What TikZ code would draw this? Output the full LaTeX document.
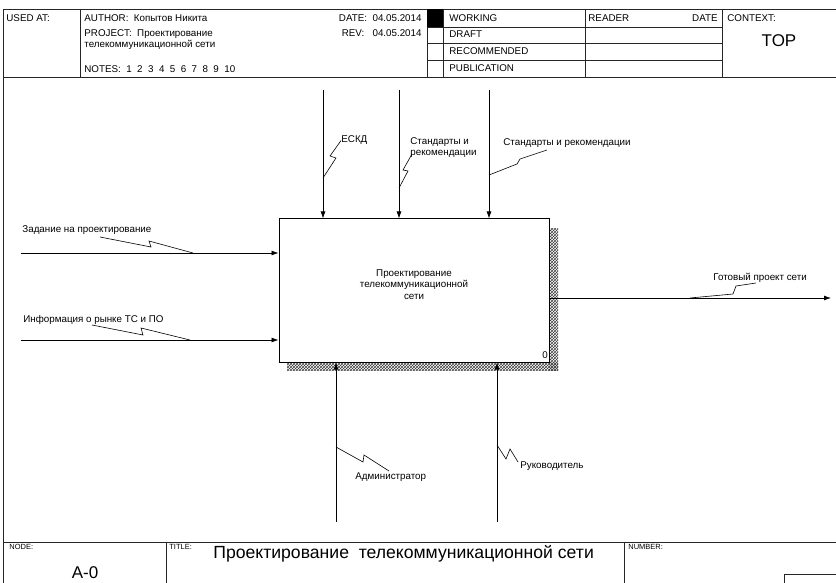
\documentclass[tikz,border=0pt]{standalone}
\usepackage{fontspec}
\setmainfont{Liberation Sans}
\usetikzlibrary{arrows.meta,patterns,positioning}

\begin{document}
\begin{tikzpicture}[x=1pt,y=-1pt,line width=0.8pt,
  font=\fontsize{9.8}{11.5}\selectfont,
  frame/.style={line width=0.9pt, draw=black!85},
  txt/.style={inner sep=0pt, anchor=base west},
  txtr/.style={inner sep=0pt, anchor=base east},
  tiny/.style={inner sep=0pt, anchor=base west, font=\fontsize{7.5}{9}\selectfont},
  big/.style={inner sep=0pt, font=\fontsize{17}{20}\selectfont},
  flow/.style={-{Latex[length=7pt,width=5pt]}, line width=0.8pt},
  squig/.style={line width=0.6pt},
  act/.style={draw, line width=1pt, minimum width=270pt, minimum height=143pt,
              fill=white, inner sep=0pt}]
\useasboundingbox (0,0) rectangle (836,583);
\draw[frame] (3,590) -- (3,9) -- (840,9);
\draw[frame] (3,77) -- (840,77);
\draw[frame] (80,9) -- (80,77);
\draw[frame] (427,9) -- (427,77);
\draw[frame] (443,9) -- (443,77);
\draw[frame] (585,9) -- (585,77);
\draw[frame] (722,9) -- (722,77);
\foreach \y in {27,43,60} \draw[frame] (427,\y) -- (722,\y);
\fill (427,9) rectangle (443,27);
\node[txt] (usedat) at (6,22) {USED AT:};
\node[txt] (author) at (84,22) {AUTHOR:\ \ Копытов Никита};
\node[txt] (project) at (84,36.5) {PROJECT:\ \ Проектирование};
\node[txt] (project2) at (84,48) {телекоммуникационной сети};
\node[txt] (notes) at (84,73) {NOTES:\ \ 1\ \ 2\ \ 3\ \ 4\ \ 5\ \ 6\ \ 7\ \ 8\ \ 9\ \ 10};
\node[txtr] (date) at (422,22) {DATE:\ \ 04.05.2014};
\node[txtr] (rev) at (422,36.5) {REV:\ \ \ 04.05.2014};
\node[txt] (working) at (449,22) {WORKING};
\node[txt] (draft) at (449,38) {DRAFT};
\node[txt] (recommended) at (449,55) {RECOMMENDED};
\node[txt] (publication) at (449,72) {PUBLICATION};
\node[txt] (reader) at (588,22) {READER};
\node[txtr] (rdate) at (718,22) {DATE};
\node[txt] (context) at (727,22) {CONTEXT:};
\node[big, anchor=base] (top) at (779,47) {TOP};
\fill[pattern=crosshatch, pattern color=black!75] (549,228) rectangle (558,370);
\fill[pattern=crosshatch, pattern color=black!75] (287,362) rectangle (558,370);
\node[act, label={[yshift=6pt, align=center, inner sep=0pt]center:Проектирование\\телекоммуникационной\\сети}] (a0) at (414,290.5) {};
\node[txt] (num) at (542,358) {0};
\coordinate (c1) at (323,90);
\coordinate (c2) at (399,90);
\coordinate (c3) at (489,90);
\coordinate (i1) at (21,253);
\coordinate (i2) at (21,340);
\coordinate (o1) at (831,298);
\coordinate (m1) at (336,522);
\coordinate (m2) at (497,522);
\draw[flow] (c1) -- (c1 |- a0.north);
\draw[flow] (c2) -- (c2 |- a0.north);
\draw[flow] (c3) -- (c3 |- a0.north);
\draw[flow] (i1) -- (i1 -| a0.west);
\draw[flow] (i2) -- (i2 -| a0.west);
\draw[flow] (a0.east |- o1) -- (o1);
\draw[flow] (m1) -- (m1 |- a0.south);
\draw[flow] (m2) -- (m2 |- a0.south);
\node[txt] (eskd) at (341,143) {ЕСКД};
\node[inner sep=0pt, anchor=north west, align=left, font=\fontsize{9.8}{11}\selectfont] (std1) at (410,137.5) {Стандарты и\\рекомендации};
\node[txt] (std2) at (503,146) {Стандарты и рекомендации};
\node[txt] (task) at (22,233) {Задание на проектирование};
\node[txt] (info) at (23,322) {Информация о рынке ТС и ПО};
\node[txt] (result) at (713,280) {Готовый проект сети};
\node[txt] (admin) at (355,479) {Администратор};
\node[txt] (boss) at (520,468) {Руководитель};
\coordinate (k1) at (323,178);
\coordinate (k2) at (399,188);
\coordinate (k3) at (489,175);
\coordinate (k4) at (193,253);
\coordinate (k5) at (190,340);
\coordinate (k6) at (690,298);
\coordinate (k7) at (336,447);
\coordinate (k8) at (497,445);
\draw[squig] (k1) -- ++(13,-20) -- ++(-6,-2) -- (eskd.west);
\draw[squig] (k2) -- ++(9,-17) -- ++(-5,-1) -- ++(9,-16);
\draw[squig] (k3) -- ++(28,-11) -- ++(3,-5) -- ++(27,-9);
\draw[squig] (k4) -- ++(-44,-12) -- ++(2,6) -- ++(-51,-10);
\draw[squig] (k5) -- ++(-49,-12) -- ++(2,7) -- ++(-51,-10);
\draw[squig] (k6) -- ++(43,-4) -- ++(3,-8) -- ++(20,-3);
\draw[squig] (k7) -- ++(27,15) -- ++(1,-7) -- ++(25,16);
\draw[squig] (k8) -- ++(9,14) -- ++(4,-10) -- ++(8,13);
\draw[frame] (3,542) -- (840,542);
\draw[frame] (166,542) -- (166,590);
\draw[frame] (624,542) -- (624,590);
\draw[frame] (784,590) -- (784,574) -- (840,574);
\node[tiny] (nodelbl) at (9,549) {NODE:};
\node[tiny] (titlelbl) at (169,549) {TITLE:};
\node[tiny] (numlbl) at (628,549) {NUMBER:};
\node[big, anchor=base] (nodeid) at (85,578) {A-0};
\node[big, anchor=base west, font=\fontsize{17.6}{20}\selectfont] (title) at (213,558) {Проектирование\ \ телекоммуникационной сети};
\end{tikzpicture}
\end{document}
